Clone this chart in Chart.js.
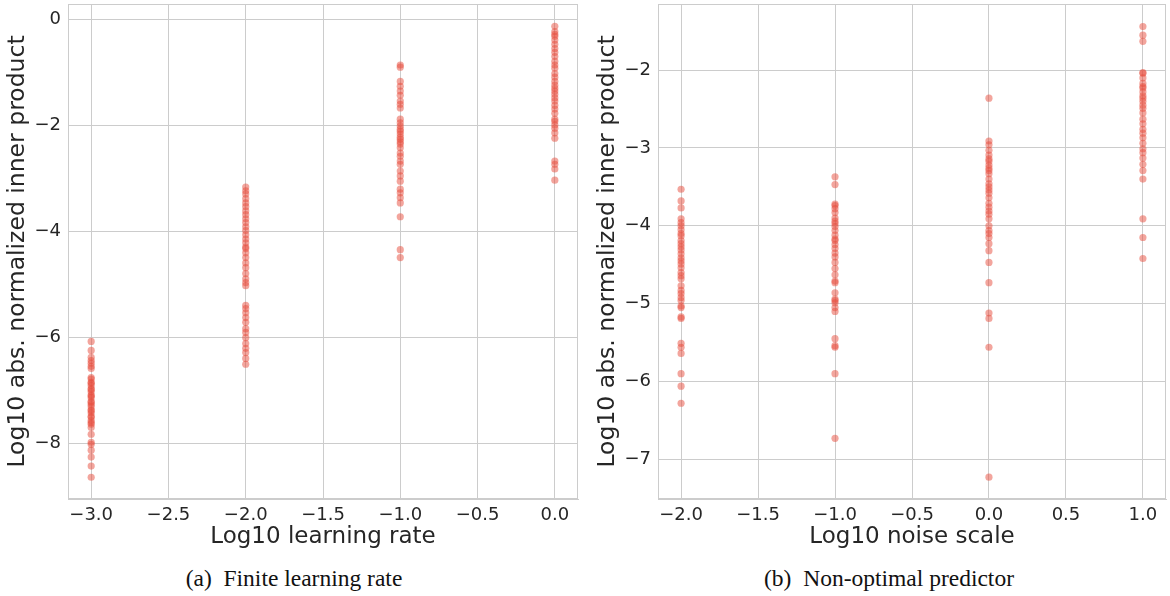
<!DOCTYPE html>
<html>
<head>
<meta charset="utf-8">
<script src="https://cdn.jsdelivr.net/npm/chart.js@4/dist/chart.umd.min.js"></script>
<style>
  body { margin: 0; background: #fff; width: 1170px; height: 596px; position: relative; overflow: hidden; }
  canvas { position: absolute; top: 0; }
  .cap { position: absolute; top: 565px; font-family: "Liberation Serif", "Times New Roman", serif; font-size: 23.5px; color: #111; white-space: nowrap; transform: translateX(-50%); }
</style>
</head>
<body>
<canvas id="chartA" width="588" height="556" style="left:0"></canvas>
<canvas id="chartB" width="582" height="556" style="left:588px"></canvas>
<div class="cap" style="left:294px">(a)&nbsp; Finite learning rate</div>
<div class="cap" style="left:889px">(b)&nbsp; Non-optimal predictor</div>
<script>
//Data: panel (a), one array per learning rate
const lrValues = [-3, -2, -1, 0];
const lrM3 = [-6.07, -6.24, -6.37, -6.43, -6.48, -6.54, -6.58, -6.75, -6.78, -6.84, -6.86, -6.9, -6.96, -6.98, -7.02, -7.08, -7.1, -7.13, -7.2, -7.22, -7.26, -7.3, -7.36, -7.38, -7.42, -7.48, -7.5, -7.56, -7.6, -7.63, -7.69, -7.82, -7.97, -8.01, -8.12, -8.25, -8.42, -8.63];
const lrM2 = [-3.16, -3.23, -3.29, -3.38, -3.46, -3.53, -3.61, -3.68, -3.76, -3.83, -3.91, -3.98, -4.06, -4.14, -4.21, -4.29, -4.32, -4.4, -4.49, -4.59, -4.68, -4.79, -4.89, -4.96, -5.02, -5.39, -5.45, -5.53, -5.62, -5.71, -5.83, -5.9, -6.0, -6.11, -6.2, -6.28, -6.39, -6.5];
const lrM1 = [-0.86, -0.9, -1.17, -1.26, -1.35, -1.43, -1.54, -1.6, -1.67, -1.88, -1.95, -2.01, -2.07, -2.11, -2.16, -2.22, -2.26, -2.31, -2.35, -2.42, -2.52, -2.58, -2.67, -2.73, -2.86, -2.95, -3.05, -3.2, -3.27, -3.36, -3.46, -3.72, -4.34, -4.49];
const lrZero = [-0.13, -0.23, -0.28, -0.32, -0.39, -0.47, -0.55, -0.62, -0.7, -0.79, -0.86, -0.92, -1.02, -1.09, -1.17, -1.24, -1.3, -1.35, -1.41, -1.48, -1.54, -1.62, -1.69, -1.77, -1.88, -1.92, -1.99, -2.05, -2.14, -2.24, -2.67, -2.73, -2.82, -3.03];

//Data: panel (b), one array per noise scale
const noiseValues = [-2, -1, 0, 1];
const nsM2 = [-3.53, -3.68, -3.77, -3.91, -3.96, -4.0, -4.05, -4.1, -4.13, -4.19, -4.23, -4.27, -4.31, -4.36, -4.41, -4.45, -4.49, -4.54, -4.6, -4.64, -4.68, -4.77, -4.83, -4.87, -4.92, -4.96, -5.03, -5.05, -5.17, -5.19, -5.51, -5.56, -5.64, -5.9, -6.06, -6.28];
const nsM1 = [-3.37, -3.47, -3.72, -3.74, -3.78, -3.83, -3.9, -3.94, -3.97, -4.01, -4.06, -4.12, -4.17, -4.19, -4.24, -4.29, -4.35, -4.4, -4.47, -4.55, -4.63, -4.71, -4.73, -4.86, -4.94, -4.96, -4.99, -5.05, -5.1, -5.45, -5.54, -5.56, -5.9, -6.73];
const nsZero = [-2.36, -2.91, -2.96, -3.03, -3.09, -3.14, -3.17, -3.22, -3.26, -3.29, -3.33, -3.4, -3.46, -3.5, -3.54, -3.58, -3.64, -3.71, -3.76, -3.81, -3.85, -3.91, -4.0, -4.06, -4.1, -4.15, -4.23, -4.32, -4.47, -4.73, -5.12, -5.19, -5.56, -7.23];
const nsOne = [-1.44, -1.55, -1.63, -2.03, -2.04, -2.1, -2.17, -2.21, -2.23, -2.28, -2.33, -2.36, -2.4, -2.45, -2.49, -2.55, -2.63, -2.69, -2.76, -2.81, -2.87, -2.94, -3.01, -3.06, -3.13, -3.21, -3.29, -3.4, -3.91, -4.15, -4.42];

//Tick labels
const lrXTicks = [-3.0, -2.5, -2.0, -1.5, -1.0, -0.5, 0.0];
const lrYTicks = [-8, -6, -4, -2, 0];
const noiseXTicks = [-2.0, -1.5, -1.0, -0.5, 0.0, 0.5, 1.0];
const noiseYTicks = [-7, -6, -5, -4, -3, -2];

const yTitle = 'Log10 abs. normalized inner product';
const textColor = '#262626';
const gridColor = '#cccccc';

function toPoints(xs, cols) {
    const pts = [];
    cols.forEach((col, i) => col.forEach(v => pts.push({ x: xs[i], y: v })));
    return pts;
}

const minus = s => String(s).replace('-', '\u2212');

//Draws the top and right spines
const frame = {
    id: 'frame',
    afterDatasetsDraw(chart) {
        const a = chart.chartArea, ctx = chart.ctx;
        ctx.save();
        ctx.strokeStyle = gridColor;
        ctx.lineWidth = 1;
        ctx.strokeRect(a.left + 0.5, a.top + 0.5, a.right - a.left - 1, a.bottom - a.top - 1);
        ctx.restore();
    }
};

function makeConfig(points, xTicks, yTicks, xRange, yRange, xLabel, yWidth, padRight, titlePad) {
    return {
        type: 'scatter',
        data: {
            datasets: [{
                data: points,
                backgroundColor: 'rgba(231, 76, 60, 0.5)',
                borderWidth: 0,
                pointRadius: 3.6
            }]
        },
        options: {
            responsive: false,
            animation: false,
            events: [],
            layout: { padding: { top: 3, right: padRight, bottom: 0, left: 0 } },
            plugins: { legend: { display: false }, tooltip: { enabled: false } },
            scales: {
                x: {
                    min: xRange[0], max: xRange[1],
                    afterBuildTicks: s => { s.ticks = xTicks.map(v => ({ value: v })); },
                    afterFit: s => { s.height = 57; s.paddingLeft = 0; s.paddingRight = 0; },
                    grid: { color: gridColor, drawTicks: false },
                    border: { color: gridColor },
                    ticks: {
                        color: textColor, padding: 6,
                        font: { family: 'DejaVu Sans', size: 18 },
                        callback: v => minus(v.toFixed(1))
                    },
                    title: {
                        display: true, text: xLabel, color: textColor,
                        font: { family: 'DejaVu Sans', size: 23 },
                        padding: { top: 0, bottom: 5 }
                    }
                },
                y: {
                    min: yRange[0], max: yRange[1],
                    afterBuildTicks: s => { s.ticks = yTicks.map(v => ({ value: v })); },
                    afterFit: s => { s.width = yWidth; s.paddingTop = 0; s.paddingBottom = 0; },
                    grid: { color: gridColor, drawTicks: false },
                    border: { color: gridColor },
                    ticks: {
                        color: textColor, padding: 7,
                        font: { family: 'DejaVu Sans', size: 18 },
                        callback: v => minus(v)
                    },
                    title: {
                        display: true, text: yTitle, color: textColor,
                        font: { family: 'DejaVu Sans', size: 23.5 },
                        padding: { top: titlePad, bottom: 0 }
                    }
                }
            }
        },
        plugins: [frame]
    };
}

new Chart(document.getElementById('chartA'),
    makeConfig(toPoints(lrValues, [lrM3, lrM2, lrM1, lrZero]), lrXTicks, lrYTicks,
        [-3.15, 0.15], [-9.04, 0.29], 'Log10 learning rate', 68, 10, 4));

new Chart(document.getElementById('chartB'),
    makeConfig(toPoints(noiseValues, [nsM2, nsM1, nsZero, nsOne]), noiseXTicks, noiseYTicks,
        [-2.15, 1.15], [-7.51, -1.15], 'Log10 noise scale', 70, 2, 6));
</script>
</body>
</html>
